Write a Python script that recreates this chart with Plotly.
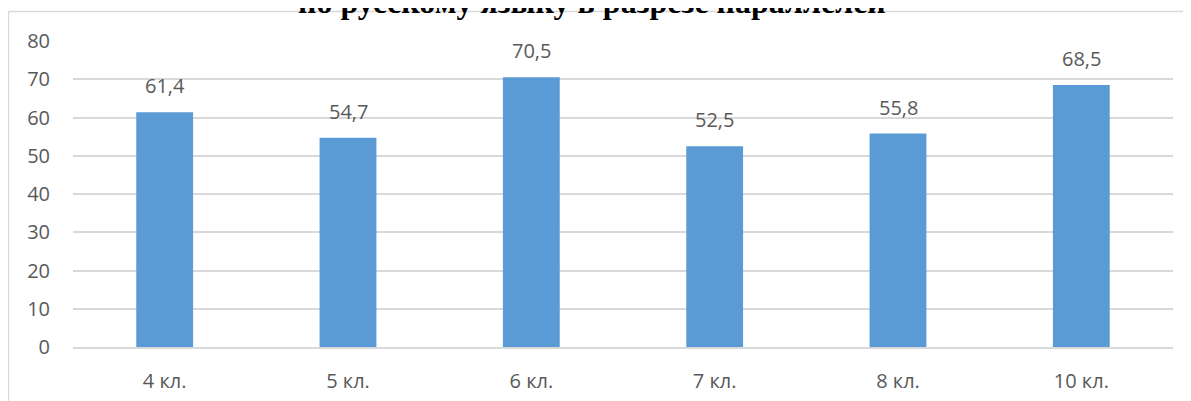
import plotly.graph_objects as go

categories = ["4 кл.", "5 кл.", "6 кл.", "7 кл.", "8 кл.", "10 кл."]
values = [61.4, 54.7, 70.5, 52.5, 55.8, 68.5]
y_ticks = [0, 10, 20, 30, 40, 50, 60, 70, 80]
title_text = "по русскому языку в разрезе параллелей"

W, H = 1191, 401
OFF = 8  # page body margin offset
# plot area in screen (reference) pixels
SX0, SX1, SY0, SY1 = 73, 1173, 41, 347
L = SX0 - OFF
R = W - (SX1 - OFF)
T = SY0 - OFF
B = H - (SY1 - OFF)
pw, ph = W - L - R, H - T - B

def px_x(x):
    return (x - SX0) / pw

def px_y(y):
    return (SY1 - y) / ph

text_color = "#595959"
grid_color = "#D9D9D9"
FS = 20

fig = go.Figure()
fig.add_trace(go.Bar(
    x=categories, y=values,
    marker=dict(color="#5B9BD5", line=dict(width=0)),
    width=0.31,
    hoverinfo="skip",
))

for c, v in zip(categories, values):
    fig.add_annotation(
        x=c, y=v, xref="x", yref="y",
        text=f"{v:.1f}".replace(".", ","),
        showarrow=False, yanchor="bottom", yshift=11,
        font=dict(family="Open Sans", size=FS, color=text_color),
    )

fig.add_annotation(
    x=px_x(592), y=px_y(22), xref="paper", yref="paper",
    text=f"<b>{title_text}</b>", showarrow=False,
    xanchor="center", yanchor="bottom",
    font=dict(family="Liberation Serif", size=32, color="#000000"),
)

# chart frame (top and left edges)
fx0, fy0 = px_x(8.5), px_y(11.5)
fig.add_shape(type="line", xref="paper", yref="paper",
              x0=fx0, y0=fy0, x1=px_x(W), y1=fy0,
              line=dict(color=grid_color, width=1.5), layer="below")
fig.add_shape(type="line", xref="paper", yref="paper",
              x0=fx0, y0=fy0, x1=fx0, y1=px_y(H),
              line=dict(color=grid_color, width=1.5), layer="below")

fig.update_layout(
    width=W, height=H,
    margin=dict(l=L, r=R, t=T, b=B),
    paper_bgcolor="white", plot_bgcolor="white",
    showlegend=False,
    bargap=0.69,
    font=dict(family="Open Sans", size=FS, color=text_color),
    xaxis=dict(
        showgrid=False, showline=True, linecolor=grid_color, linewidth=1.5,
        ticks="", tickfont=dict(family="Open Sans", size=FS, color=text_color),
        ticklabelstandoff=15,
    ),
    yaxis=dict(
        range=[0, 80], tickvals=y_ticks, showgrid=True, gridcolor=grid_color,
        gridwidth=1.5, zeroline=False, showline=False, ticks="",
        tickfont=dict(family="Open Sans", size=FS, color=text_color),
        ticklabelstandoff=22,
    ),
)

fig.write_html("out.html")
